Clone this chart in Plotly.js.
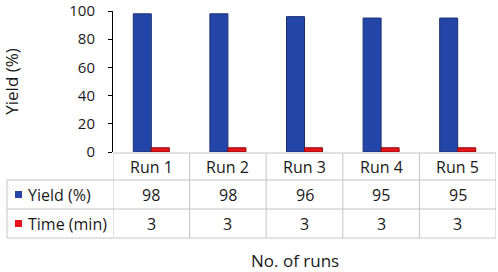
<!DOCTYPE html>
<html>
<head>
<meta charset="utf-8">
<script src="https://cdn.plot.ly/plotly-3.0.1.min.js"></script>
<style>html,body{margin:0;padding:0;background:#fff;}#chart{width:498px;height:272px;}</style>
</head>
<body>
<div id="chart"></div>
<script>
var categories = ["Run 1", "Run 2", "Run 3", "Run 4", "Run 5"];
var yieldValues = [98, 98, 96, 95, 95];
var timeValues = [3, 3, 3, 3, 3];
var seriesNames = ["Yield (%)", "Time (min)"];
var yTickVals = [0, 20, 40, 60, 80, 100];

var blue = "#2446A8", red = "#E8141A";
var font = "Open Sans, Noto Sans, sans-serif";
var txt = "#1a1a1a";
var grid = "#c4c4c4";

var idx = categories.map(function (_, i) { return i; });

var traces = [
  {type: "bar", x: idx, y: yieldValues, name: seriesNames[0],
   marker: {color: blue, line: {color: "#1a2f70", width: 1}}, hoverinfo: "y"},
  {type: "bar", x: idx, y: timeValues, name: seriesNames[1],
   marker: {color: red, line: {color: "#8a0a0a", width: 1}}, hoverinfo: "y"}
];

var plotL = 113, plotR = 496, plotT = 11, plotB = 152;
var yMax = 100;
function py(p) { return (plotB - p) / (plotB - plotT); }
function px(p) { return (p - plotL) / (plotR - plotL); }
var rowTop = py(153), row1 = py(180), row2 = py(209), row3 = py(238);
var leftX = px(7);

var shapes = [];
var annotations = [];
shapes.push({type: "line", xref: "x", yref: "paper", x0: -0.5, x1: categories.length - 0.5, y0: rowTop, y1: rowTop, line: {color: grid, width: 1}});
[row1, row2, row3].forEach(function (yy) {
  shapes.push({type: "line", xref: "paper", yref: "paper", x0: leftX, x1: 1, y0: yy, y1: yy, line: {color: grid, width: 1}});
});
for (var i = 0; i <= categories.length; i++) {
  shapes.push({type: "line", xref: "x", yref: "paper", x0: i - 0.5, x1: i - 0.5, y0: rowTop, y1: row3, line: {color: grid, width: 1}});
}
shapes.push({type: "line", xref: "paper", yref: "paper", x0: leftX, x1: leftX, y0: row1, y1: row3, line: {color: grid, width: 1}});
var keyL = px(15), keyR = px(22);
var rows = [[yieldValues, blue, (row1 + row2) / 2], [timeValues, red, (row2 + row3) / 2]];
rows.forEach(function (r, k) {
  var h = 3.5 / (plotB - plotT);
  shapes.push({type: "rect", xref: "paper", yref: "paper", x0: keyL, x1: keyR, y0: r[2] - h, y1: r[2] + h, fillcolor: r[1], line: {width: 0}});
  annotations.push({xref: "paper", yref: "paper", x: px(26), y: r[2], xanchor: "left", yanchor: "middle", text: seriesNames[k], showarrow: false, font: {family: font, size: 16, color: txt}});
  r[0].forEach(function (v, j) {
    annotations.push({xref: "x", yref: "paper", x: j, y: r[2], xanchor: "center", yanchor: "middle", text: String(v), showarrow: false, font: {family: font, size: 16, color: txt}});
  });
});
categories.forEach(function (c, j) {
  annotations.push({xref: "x", yref: "paper", x: j, y: (rowTop + row1) / 2, xanchor: "center", yanchor: "middle", text: c, showarrow: false, font: {family: font, size: 16, color: txt}});
});
annotations.push({xref: "paper", yref: "paper", x: px(295), y: py(260), xanchor: "center", yanchor: "middle", text: "No. of runs", showarrow: false, font: {family: font, size: 17, color: txt}});

var layout = {
  width: 498, height: 272,
  margin: {l: plotL, r: 498 - plotR, t: plotT, b: 272 - plotB},
  paper_bgcolor: "#ffffff", plot_bgcolor: "#ffffff",
  showlegend: false,
  barmode: "group", bargap: 0.53, bargroupgap: 0,
  xaxis: {range: [-0.5, categories.length - 0.5], showticklabels: false, showgrid: false, zeroline: false, showline: false, ticks: "", fixedrange: true},
  yaxis: {range: [0, yMax], tickvals: yTickVals, showgrid: false, zeroline: false,
          showline: true, linecolor: "#000000", linewidth: 1,
          ticks: "outside", ticklen: 4, tickcolor: "#000000", ticklabelstandoff: 10,
          ticklabeloverflow: "allow",
          tickfont: {family: font, size: 15, color: txt},
          title: {text: "Yield (%)", font: {family: font, size: 17, color: txt}, standoff: 54}},
  shapes: shapes,
  annotations: annotations,
  font: {family: font, color: txt}
};

Plotly.newPlot("chart", traces, layout, {displayModeBar: false, staticPlot: true});
</script>
</body>
</html>
